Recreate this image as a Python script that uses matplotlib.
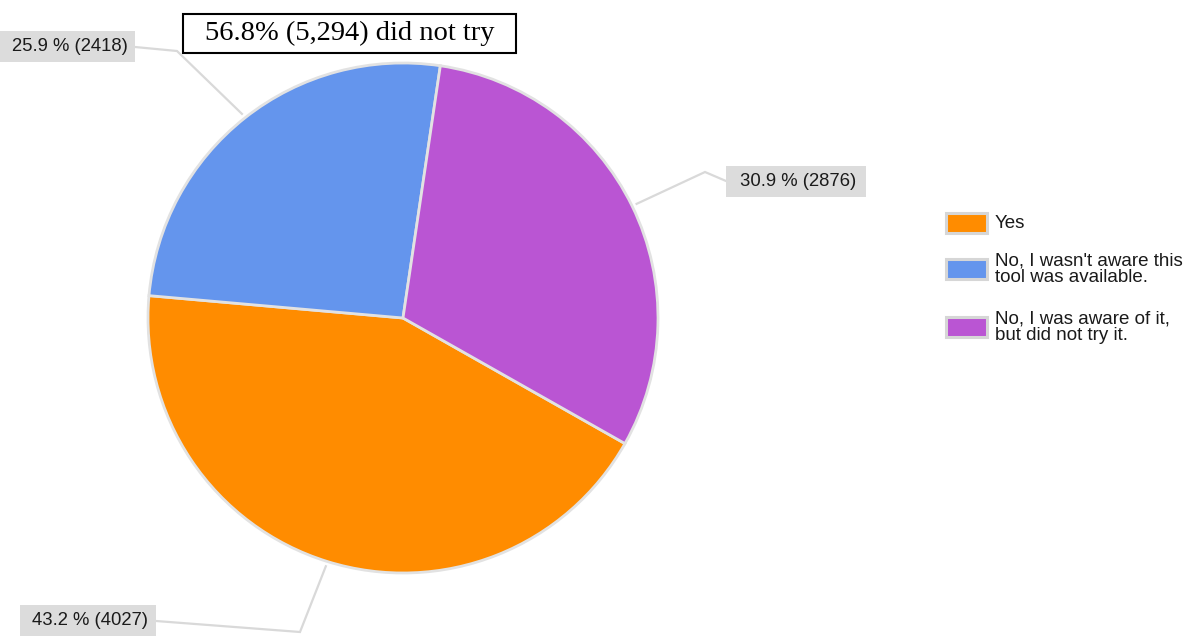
import matplotlib
matplotlib.use("Agg")
import matplotlib.pyplot as plt
from matplotlib.patches import Rectangle
import numpy as np

# ── data ─────────────────────────────────────────────────────────────
answers = ["Yes",
           "No, I wasn't aware this\ntool was available.",
           "No, I was aware of it,\nbut did not try it."]
counts = [4027, 2418, 2876]
colors = ["#ff8c00", "#6495ed", "#ba55d3"]

W, H = 1191, 644
SANS = "Liberation Sans"
GRID = "#d9d9d9"


def Y(y_px):
    # pixel rows measured from the top -> data y (up)
    return H - y_px


fig = plt.figure(figsize=(W / 100, H / 100), dpi=100)
ax = fig.add_axes([0, 0, 1, 1])

cx, cy, rad = 403, Y(318), 255
wedges, _ = ax.pie(counts, colors=colors, startangle=-29.5, counterclock=False,
                   center=(cx, cy), radius=rad,
                   wedgeprops=dict(edgecolor="#e2e2e2", linewidth=2))
ax.set_xlim(0, W); ax.set_ylim(0, H); ax.axis("off")

total = sum(counts)
pct = [c / total * 100 for c in counts]

# label boxes: (left, top, width, height) and leader elbow / end, in pixels
layout = [
    dict(box=(20, 605, 136, 31), elbow=(300, 632), end=(156, 621)),
    dict(box=(0, 31, 135, 31), elbow=(177, 51), end=(135, 47)),
    dict(box=(726, 166, 140, 31), elbow=(705, 172), end=(726, 181)),
]

for w, p, c, lay in zip(wedges, pct, counts, layout):
    mid = np.deg2rad((w.theta1 + w.theta2) / 2)
    sx, sy = cx + (rad + 5) * np.cos(mid), cy + (rad + 5) * np.sin(mid)
    ex, ey = lay["elbow"]; tx, ty = lay["end"]
    ax.plot([sx, ex, tx], [sy, Y(ey), Y(ty)], color=GRID, lw=1.6,
            solid_joinstyle="miter", zorder=1)
    x0, top, bw, bh = lay["box"]
    ax.add_patch(Rectangle((x0, Y(top + bh)), bw, bh, fc="#dcdcdc", ec="none", zorder=2))
    ax.text(x0 + bw / 2 + 2, Y(top + bh / 2), f"{p:.1f} % ({c})", ha="center", va="center",
            fontsize=13.3, family=SANS, color="#1a1a1a", zorder=3)

# headline box
not_try = counts[1] + counts[2]
ax.add_patch(Rectangle((183, Y(53)), 333, 39, fc="white", ec="black", lw=1.5, zorder=4))
ax.text(350, Y(33), f"{not_try / total * 100:.1f}% ({not_try:,}) did not try",
        ha="center", va="center", fontsize=20.5, family="Liberation Serif", color="black", zorder=5)

# legend
leg_y = [223, 269, 327]
for lab, col, y in zip(answers, colors, leg_y):
    ax.add_patch(Rectangle((946, Y(y + 10)), 41, 20, fc=col, ec="#d6d6d6", lw=2.2, zorder=2))
    ax.text(995, Y(y), lab, ha="left", va="center", fontsize=13.5, family=SANS,
            color="#1a1a1a", linespacing=0.98)

fig.savefig("out.png", dpi=100)
